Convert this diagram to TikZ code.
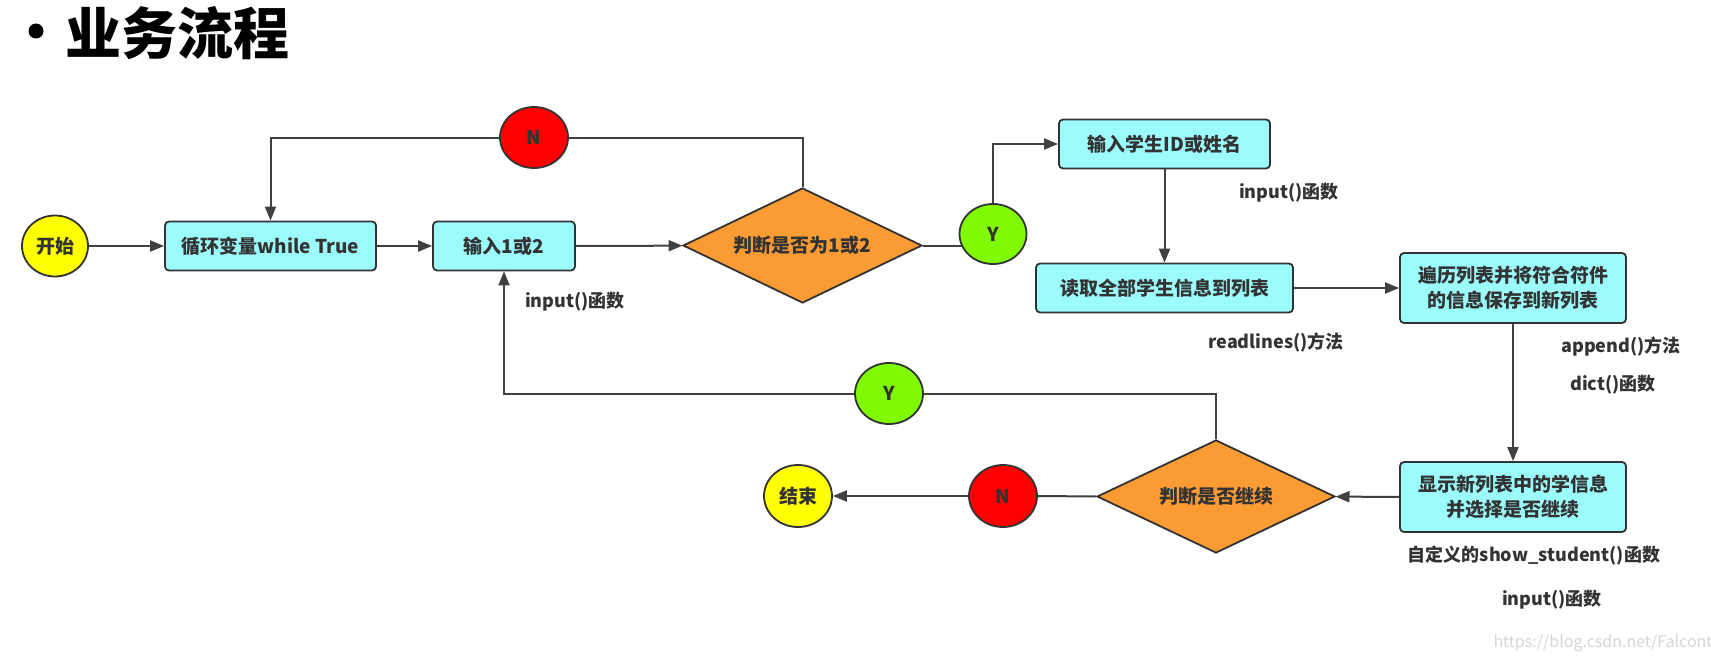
\documentclass[tikz,border=0pt]{standalone}
\usepackage{fontspec}
\setmainfont{Noto Sans CJK SC}
\usepackage{xcolor}
\usepackage[]{tikz}
\usetikzlibrary{positioning,shapes.geometric,calc}
\usetikzlibrary{arrows.meta,backgrounds}
\definecolor{boxcyan}{RGB}{156,252,252}
\definecolor{askorange}{RGB}{250,155,52}
\definecolor{yesgreen}{RGB}{128,250,0}
\definecolor{nored}{RGB}{255,0,0}
\definecolor{endyellow}{RGB}{255,255,0}
\definecolor{ink}{RGB}{51,51,51}
\definecolor{linegray}{RGB}{64,64,64}
\newcommand\boxfont{\fontsize{19}{25}\selectfont\bfseries}
\newcommand\notefont{\fontsize{18}{22}\selectfont\bfseries}
\tikzset{box node/.style={rectangle,rounded corners=4pt,fill=boxcyan,draw=ink,line width=1.8pt,inner sep=0pt,minimum height=49pt,align=center,text=ink,font=\boxfont}}
\tikzset{ask node/.style={diamond,fill=askorange,draw=ink,line width=1.8pt,inner sep=2pt,shape aspect=2.08,text=ink,font=\boxfont}}
\tikzset{round node/.style={ellipse,draw=ink,line width=1.8pt,minimum width=67pt,minimum height=61pt,inner sep=0pt,text=ink,font=\boxfont}}
\tikzset{note/.style={text=ink,font=\notefont,inner sep=0pt}}

\begin{document}
\begin{tikzpicture}[x=1pt, y=-1pt, >={Triangle[length=14pt,width=11pt]},
    flow/.style={->, line width=2pt, draw=linegray}, plain/.style={line width=2pt, draw=linegray}]
      \path[use as bounding box] (0,0) rectangle (1711,661);
      % title
      \node[circle,fill=black,minimum size=15pt,inner sep=0pt] (bullet) at (36,31) {};
      \node[anchor=west,inner sep=0pt,font=\fontsize{56}{60}\selectfont\bfseries] (title) at (65,33) {业务流程};
      % upper row
      \node[round node,fill=endyellow,minimum width=66pt] (start) at (55,246) {开始};
      \node[box node,minimum width=211pt] (loop) at (270.5,246) {循环变量while True};
      \node[box node,minimum width=142pt] (choose) at (504,246) {输入1或2};
      \node[ask node,minimum width=239pt,minimum height=115pt] (judge1) at (802.5,245.5) {判断是否为1或2};
      \node[round node,fill=nored,minimum width=68pt] (no1) at (534,137.5) {N};
      \node[round node,fill=yesgreen,minimum height=60pt] (yes1) at (993,234) {Y};
      \node[box node,minimum width=211pt] (inputid) at (1164.5,144) {输入学生ID或姓名};
      \node[box node,minimum width=257pt] (readall) at (1164.5,288) {读取全部学生信息到列表};
      \node[box node,minimum width=226pt,minimum height=70pt] (filter) at (1513,288) {遍历列表并将符合符件\\的信息保存到新列表};
      % lower row
      \node[box node,minimum width=226pt,minimum height=70pt] (show) at (1513,497) {显示新列表中的学信息\\并选择是否继续};
      \node[ask node,minimum width=238pt,minimum height=113pt] (judge2) at (1216,496.5) {判断是否继续};
      \node[round node,fill=nored,minimum width=68pt,minimum height=62pt] (no2) at (1003,496) {N};
      \node[round node,fill=yesgreen,minimum width=68pt] (yes2) at (889,393.5) {Y};
      \node[round node,fill=endyellow,minimum width=68pt,minimum height=62pt] (finish) at (798,496) {结束};
      % notes
      \node[note] (n1) at (575,302) {input()函数};
      \node[note] (n2) at (1289,193) {input()函数};
      \node[note] (n3) at (1276,342) {readlines()方法};
      \node[note] (n4) at (1621,347) {append()方法};
      \node[note] (n5) at (1613,385) {dict()函数};
      \node[note] (n6) at (1534,556) {自定义的show\_student()函数};
      \node[note] (n7) at (1552,600) {input()函数};
      \node[inner sep=0pt,text=black!16,font=\fontsize{16}{20}\selectfont] (mark) at (1603,643) {https://blog.csdn.net/Falcont};
      % connectors
      \draw[flow] (start) -- (loop);
      \draw[flow] (loop) -- (choose);
      \draw[flow] (choose) -- (judge1);
      \draw[plain] (judge1.north) |- (no1.east);
      \draw[flow] (no1.west) -| (loop.north);
      \begin{scope}[on background layer]
        \draw[plain] (judge1.east) -- (judge1.east -| yes1.center);
      \end{scope}
      \draw[flow] (yes1.north) |- (inputid.west);
      \draw[flow] (inputid) -- (readall);
      \draw[flow] (readall.east) -- (readall.east -| filter.west);
      \draw[flow] (filter) -- (show);
      \draw[flow] (show) -- (judge2);
      \draw[plain] (judge2.west) -- (no2.east);
      \draw[flow] (no2.west) -- (finish.east);
      \draw[plain] (judge2.north) |- (yes2.east);
      \draw[flow] (yes2.west) -| (choose.south);
    \end{tikzpicture}
\end{document}
